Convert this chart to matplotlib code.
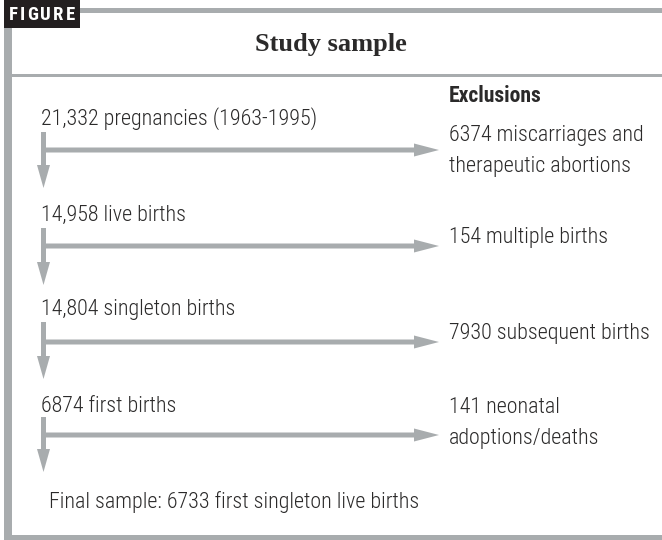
import matplotlib
matplotlib.use("Agg")
import matplotlib.pyplot as plt
from matplotlib.patches import Rectangle, FancyArrow
from matplotlib import font_manager

names = {f.name for f in font_manager.fontManager.ttflist}
narrow = "Liberation Sans"
for cand in ["Liberation Sans Narrow", "Roboto Condensed", "Open Sans Condensed", "Liberation Sans"]:
    if cand in names:
        narrow = cand
        break
serif = "Liberation Serif" if "Liberation Serif" in names else "DejaVu Serif"

# ---- data ----
badge = "FIGURE"
title = "Study sample"
stage_labels = ["21,332 pregnancies (1963-1995)", "14,958 live births",
                "14,804 singleton births", "6874 first births"]
exclusion_labels = ["6374 miscarriages and\ntherapeutic abortions", "154 multiple births",
                    "7930 subsequent births", "141 neonatal\nadoptions/deaths"]
final_label = "Final sample: 6733 first singleton live births"
exclusions_header = "Exclusions"

# ---- layout (pixel coordinates) ----
W, H = 662, 540
GRAY = "#a8acae"
TXT = "#2b2a2a"
stage_y = [119, 215, 310, 407]
stem_top = [132, 228, 322, 417]
horiz_y = [150, 246, 342, 435]
stem_tip = [188, 285, 379, 472]
excl_y = [151, 238, 333, 423]
stem_x = 43.5
tip_x = 439
left_text_x = 41
right_text_x = 449

fig = plt.figure(figsize=(W / 100, H / 100), dpi=100)
ax = fig.add_axes([0, 0, 1, 1])
ax.set_xlim(0, W)
ax.set_ylim(H, 0)
ax.axis("off")

# choose body font size so the first label spans ~277 px like the reference
renderer = fig.canvas.get_renderer()
probe = ax.text(0, 0, stage_labels[0], fontsize=10, family=narrow, fontweight="light")
w10 = probe.get_window_extent(renderer).width
probe.remove()
fs = min(16, 10 * 277 / w10)

# frame
ax.add_patch(Rectangle((4, 0), 76, 28, color="#231f20", lw=0))
ax.add_patch(Rectangle((80, 8), W - 80, 5, color=GRAY, lw=0))
ax.add_patch(Rectangle((4, 28), 8, H - 28, color=GRAY, lw=0))
ax.add_patch(Rectangle((12, 74), W - 12, 3, color=GRAY, lw=0))
ax.add_patch(Rectangle((4, 535), W - 4, 5, color=GRAY, lw=0))

# letter-spaced badge text, fitted inside the black box
bfs = 13.5
widths = []
for ch in badge:
    t = ax.text(0, 0, ch, fontsize=bfs, fontweight="bold", family=narrow)
    widths.append(t.get_window_extent(renderer).width)
    t.remove()
x0, x1 = 9.0, 75.0
gap = max(1.0, (x1 - x0 - sum(widths)) / (len(badge) - 1))
x = x0
for ch, w in zip(badge, widths):
    ax.text(x, 15, ch, color="white", fontsize=bfs, fontweight="bold",
            family=narrow, ha="left", va="center")
    x += w + gap

ax.text(331, 44, title, fontsize=19, fontweight="bold", family=serif, color=TXT,
        ha="center", va="center")
ax.text(right_text_x, 96, exclusions_header, fontsize=fs * 0.98, fontweight="bold",
        family=narrow, color=TXT, ha="left", va="center")

for i in range(len(stage_labels)):
    ax.text(left_text_x, stage_y[i], stage_labels[i], fontsize=fs, family=narrow,
            fontweight="light", color=TXT, ha="left", va="center")
    ax.add_patch(FancyArrow(stem_x, stem_top[i], 0, stem_tip[i] - stem_top[i], width=5,
                            head_width=13, head_length=23, length_includes_head=True,
                            color=GRAY, lw=0))
    ax.add_patch(FancyArrow(stem_x, horiz_y[i], tip_x - stem_x, 0, width=5,
                            head_width=13, head_length=25, length_includes_head=True,
                            color=GRAY, lw=0))
    ax.text(right_text_x, excl_y[i], exclusion_labels[i], fontsize=fs, family=narrow,
            fontweight="light", color=TXT, ha="left", va="center", linespacing=1.6)

ax.text(49, 502, final_label, fontsize=fs, family=narrow, fontweight="light", color=TXT,
        ha="left", va="center")

fig.savefig("out.png", dpi=100)
